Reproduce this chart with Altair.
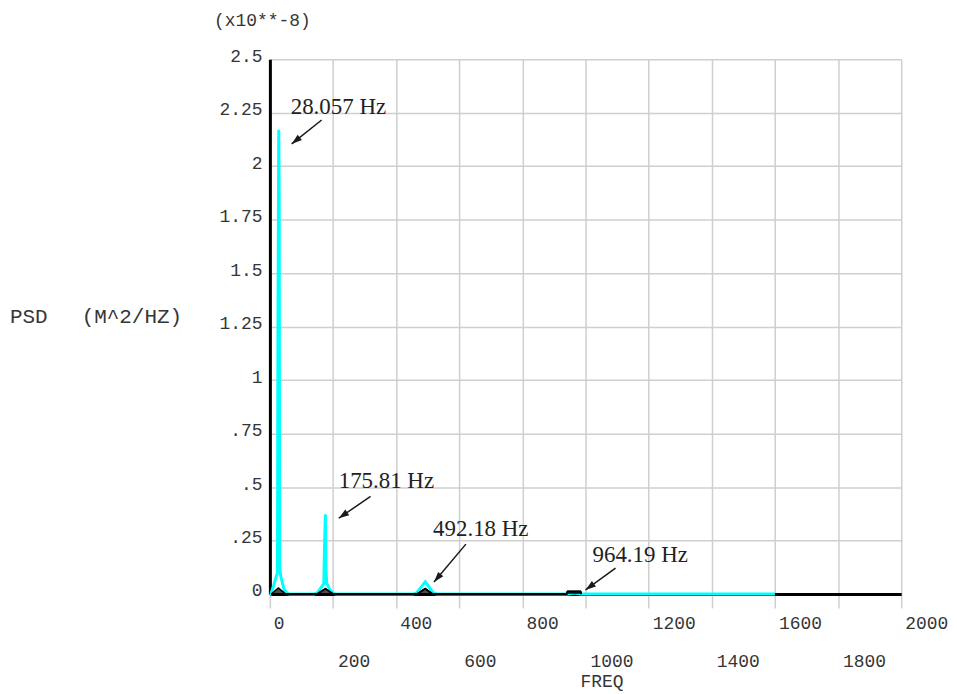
import math
import altair as alt
import pandas as pd

# ---- data -----------------------------------------------------------------
freq = [0, 3, 12, 20, 24, 25.5, 28.06, 29.5, 31, 35, 45, 55, 62,
        140, 150, 165, 171, 173, 175.81, 177.5, 180, 190, 200, 210,
        455, 465, 492.18, 518, 528,
        945, 964.19, 985, 1600]
psd = [0, 0, 0.04, 0.08, 0.1, 1.22, 2.17, 1.85, 0.12, 0.08, 0.02, 0.003, 0,
       0, 0.005, 0.035, 0.05, 0.22, 0.372, 0.12, 0.05, 0.02, 0.003, 0,
       0, 0.005, 0.057, 0.005, 0,
       0, 0.004, 0, 0]

# small black base markers under each resonance
tri_freq = [4, 27, 50, 150, 176, 200, 467, 492, 515, 940, 943, 984, 987]
tri_psd = [0, 0.028, 0, 0, 0.025, 0, 0, 0.025, 0, 0, 0.012, 0.012, 0]
tri_grp = ["a", "a", "a", "b", "b", "b", "c", "c", "c", "d", "d", "d", "d"]

# annotations: label, text anchor, arrow start, arrow tip (data units)
ann_label = ["28.057 Hz", "175.81 Hz", "492.18 Hz", "964.19 Hz"]
ann_tx = [66, 218, 517, 1022]
ann_ty = [2.277, 0.526, 0.303, 0.182]
arr_x1 = [164, 319, 621, 1095]
arr_y1 = [2.216, 0.456, 0.233, 0.121]
arr_x2 = [69, 218, 520, 1000]
arr_y2 = [2.104, 0.354, 0.056, 0.019]

x_grid = [0, 200, 400, 600, 800, 1000, 1200, 1400, 1600, 1800, 2000]
x_row1 = [0, 400, 800, 1200, 1600, 2000]
x_row2 = [200, 600, 1000, 1400, 1800]
y_ticks = [0, 0.25, 0.5, 0.75, 1, 1.25, 1.5, 1.75, 2, 2.25, 2.5]

# ---- layout -----------------------------------------------------------------
W, H = 634, 537
XMAX, YMAX = 2000, 2.5
MONO = "Liberation Mono"
GRID = "#cfcfcf"
LABEL = "#353535"

def arrow_angle(x1, y1, x2, y2):
    dx = (x2 - x1) * W / XMAX
    dy = -(y2 - y1) * H / YMAX
    return math.degrees(math.atan2(dy, dx)) % 360

ann_ang = [arrow_angle(a, b, c, d) for a, b, c, d in zip(arr_x1, arr_y1, arr_x2, arr_y2)]

x_scale = alt.Scale(domain=[0, XMAX], nice=False, zero=False)
y_scale = alt.Scale(domain=[0, YMAX], nice=False, zero=False)

x_axis = alt.Axis(values=x_grid, labels=False, ticks=True, tickColor=GRID,
                  tickSize=14, tickWidth=1.5, domainColor="black", domainWidth=3,
                  gridColor=GRID, gridWidth=1.5, title=None)
y_axis = alt.Axis(values=y_ticks, ticks=False, domainColor="black", domainWidth=3,
                  gridColor=GRID, gridWidth=1.5, title=None,
                  labelFont=MONO, labelFontSize=18, labelColor=LABEL,
                  labelPadding=8, labelOffset=-3,
                  labelExpr="datum.value > 0 && datum.value < 1 ? substring(toString(datum.value), 1) : toString(datum.value)")

def X(f):
    return alt.X(f, scale=x_scale, axis=x_axis)

def Y(f):
    return alt.Y(f, scale=y_scale, axis=y_axis)

df_line = pd.DataFrame({"freq": freq, "psd": psd})
df_tri = pd.DataFrame({"freq": tri_freq, "psd": tri_psd, "g": tri_grp})
df_ann = pd.DataFrame({"label": ann_label, "tx": ann_tx, "ty": ann_ty,
                       "x1": arr_x1, "y1": arr_y1, "x2": arr_x2, "y2": arr_y2,
                       "ang": ann_ang})
df_r1 = pd.DataFrame({"tick": x_row1, "lab": [str(v) for v in x_row1]})
df_r2 = pd.DataFrame({"tick": x_row2, "lab": [str(v) for v in x_row2]})

line = alt.Chart(df_line).mark_line(color="#00FFFF", strokeWidth=3).encode(
    x=X("freq:Q"), y=Y("psd:Q"))

tri = alt.Chart(df_tri).mark_area(color="black", line={"color": "black", "strokeWidth": 1.5}).encode(
    x=X("freq:Q"), y=Y("psd:Q"), detail="g:N")

arrows = alt.Chart(df_ann).mark_rule(color="#1a1a1a", strokeWidth=1.5).encode(
    x=X("x1:Q"), y=Y("y1:Q"), x2="x2:Q", y2="y2:Q")

heads = alt.Chart(df_ann).mark_point(
    shape="M0,0 L-2.6,-0.85 L-2.6,0.85 Z", filled=True, color="#1a1a1a",
    size=64, opacity=1).encode(
    x=X("x2:Q"), y=Y("y2:Q"), angle=alt.Angle("ang:Q", scale=None))

ann_text = alt.Chart(df_ann).mark_text(
    font="Liberation Serif", fontSize=23, align="left", baseline="middle",
    color="#222222").encode(x=X("tx:Q"), y=Y("ty:Q"), text="label:N")

row1 = alt.Chart(df_r1).mark_text(
    font=MONO, fontSize=18, align="left", baseline="middle", color=LABEL, dx=4).encode(
    x=X("tick:Q"), y=alt.value(H + 30), text="lab:N")

row2 = alt.Chart(df_r2).mark_text(
    font=MONO, fontSize=18, align="left", baseline="middle", color=LABEL, dx=5).encode(
    x=X("tick:Q"), y=alt.value(H + 68), text="lab:N")

titles = pd.DataFrame({"t": ["(x10**-8)", "FREQ"],
                       "px": [-56, 312], "py": [-38, H + 88]})
title_marks = alt.Chart(titles).mark_text(
    font=MONO, fontSize=18, align="left", baseline="middle", color=LABEL).encode(
    x=alt.X("px:Q", scale=None), y=alt.Y("py:Q", scale=None), text="t:N")

ytitle = pd.DataFrame({"t": ["PSD", "(M^2/HZ)"], "px": [-261, -189], "py": [259, 259]})
ytitle_marks = alt.Chart(ytitle).mark_text(
    font=MONO, fontSize=21, align="left", baseline="middle", color=LABEL).encode(
    x=alt.X("px:Q", scale=None), y=alt.Y("py:Q", scale=None), text="t:N")

chart = alt.layer(line, tri, arrows, heads, ann_text, row1, row2, title_marks, ytitle_marks).properties(
    width=W, height=H,
    padding={"left": 263, "top": 50, "right": 48, "bottom": 96},
    autosize=alt.AutoSizeParams(type="none"),
    background="white",
).configure_view(stroke=None)

chart.save("out.html", embed_options={"renderer": "svg", "actions": False})
